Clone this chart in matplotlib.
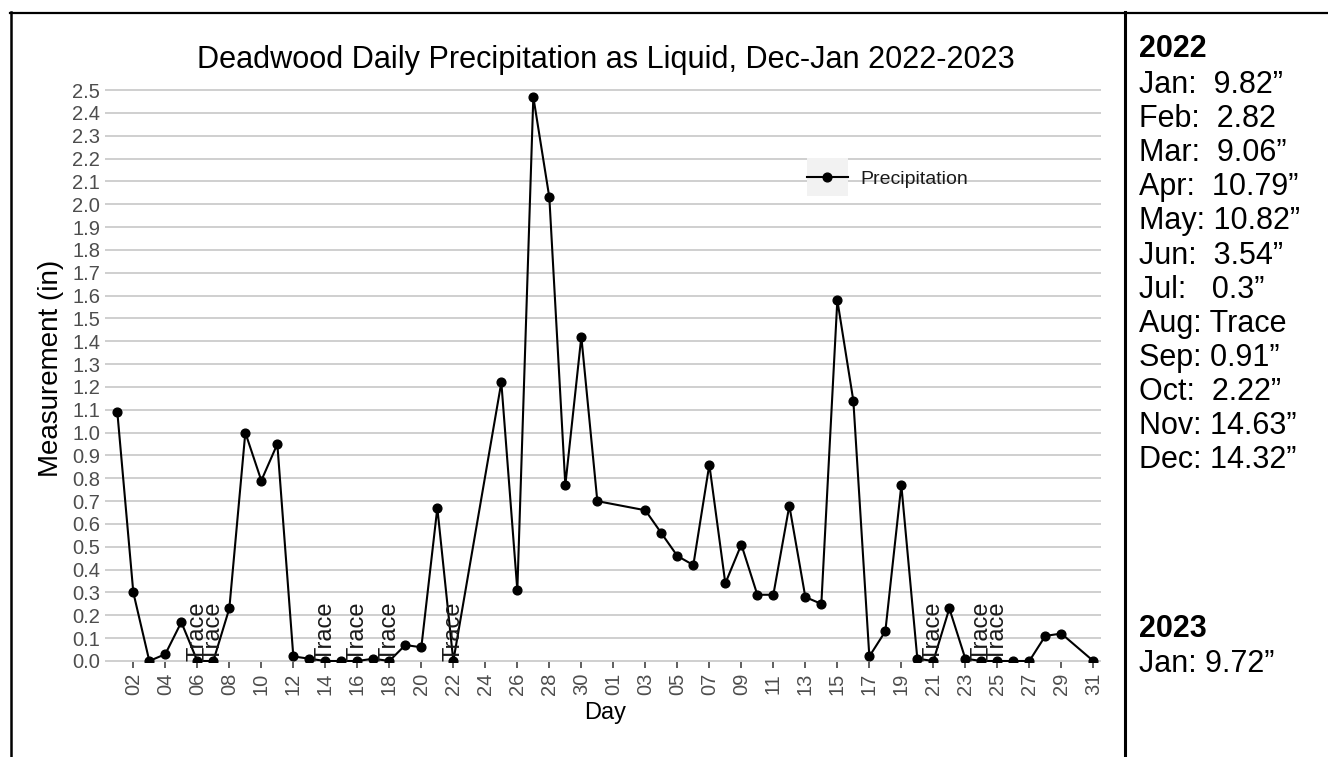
import matplotlib
matplotlib.use('Agg')
import matplotlib.pyplot as plt
import matplotlib.dates as mdates
import pandas as pd
from matplotlib.lines import Line2D
from matplotlib.patches import Rectangle
from matplotlib.legend_handler import HandlerLine2D
from matplotlib.ticker import MultipleLocator, FormatStrFormatter

plt.rcParams['font.family'] = ['Liberation Sans', 'DejaVu Sans']

# ---------------- data ----------------
days = ["2022-12-01", "2022-12-02", "2022-12-03", "2022-12-04", "2022-12-05", "2022-12-06",
        "2022-12-07", "2022-12-08", "2022-12-09", "2022-12-10", "2022-12-11", "2022-12-12",
        "2022-12-13", "2022-12-14", "2022-12-15", "2022-12-16", "2022-12-17", "2022-12-18",
        "2022-12-19", "2022-12-20", "2022-12-21", "2022-12-22", "2022-12-25", "2022-12-26",
        "2022-12-27", "2022-12-28", "2022-12-29", "2022-12-30", "2022-12-31",
        "2023-01-03", "2023-01-04", "2023-01-05", "2023-01-06", "2023-01-07", "2023-01-08",
        "2023-01-09", "2023-01-10", "2023-01-11", "2023-01-12", "2023-01-13", "2023-01-14",
        "2023-01-15", "2023-01-16", "2023-01-17", "2023-01-18", "2023-01-19", "2023-01-20",
        "2023-01-21", "2023-01-22", "2023-01-23", "2023-01-24", "2023-01-25", "2023-01-26",
        "2023-01-27", "2023-01-28", "2023-01-29", "2023-01-31"]
precip = [1.09, 0.30, 0.00, 0.03, 0.17, 0.00,
          0.00, 0.23, 1.00, 0.79, 0.95, 0.02,
          0.01, 0.00, 0.00, 0.00, 0.01, 0.00,
          0.07, 0.06, 0.67, 0.00, 1.22, 0.31,
          2.47, 2.03, 0.77, 1.42, 0.70,
          0.66, 0.56, 0.46, 0.42, 0.86, 0.34,
          0.51, 0.29, 0.29, 0.68, 0.28, 0.25,
          1.58, 1.14, 0.02, 0.13, 0.77, 0.01,
          0.00, 0.23, 0.01, 0.00, 0.00, 0.00,
          0.00, 0.11, 0.12, 0.00]
trace_days = ["2022-12-06", "2022-12-07", "2022-12-14", "2022-12-16", "2022-12-18",
              "2022-12-22", "2023-01-21", "2023-01-24", "2023-01-25"]
trace_label = "Trace"
series_name = "Precipitation"

title = "Deadwood Daily Precipitation as Liquid, Dec-Jan 2022-2023"
x_title = "Day"
y_title = "Measurement (in)"

year1 = "2022"
year1_rows = ["Jan:  9.82\u201d", "Feb:  2.82", "Mar:  9.06\u201d", "Apr:  10.79\u201d",
              "May: 10.82\u201d", "Jun:  3.54\u201d", "Jul:   0.3\u201d", "Aug: Trace",
              "Sep: 0.91\u201d", "Oct:  2.22\u201d", "Nov: 14.63\u201d", "Dec: 14.32\u201d"]
year2 = "2023"
year2_rows = ["Jan: 9.72\u201d"]

# ---------------- figure ----------------
W, H = 1328, 757
fig = plt.figure(figsize=(W / 100, H / 100), dpi=100)
fig.patch.set_facecolor('white')

def fx(px):
    return px / W

def fy(py):
    return 1 - py / H

left, right, top, bottom = 105, 1100.7, 88, 662
ax = fig.add_axes([fx(left), fy(bottom), (right - left) / W, (bottom - top) / H])

x = pd.to_datetime(days)
xt = pd.to_datetime(trace_days)

ax.plot(x, precip, color='black', lw=1.5, marker='o', ms=6.3, label=series_name, zorder=3)
for d in xt:
    ax.text(d, 0, trace_label, rotation=90, rotation_mode='anchor', ha='left', va='center',
            fontsize=17, color='#1a1a1a', zorder=4)

start = pd.Timestamp("2022-12-01")
ax.set_xlim(start - pd.Timedelta(days=0.77), start + pd.Timedelta(days=61.46))
ax.set_ylim(-0.0044, 2.509)

ticks = list(pd.date_range("2022-12-02", "2022-12-30", freq="2D")) + \
        list(pd.date_range("2023-01-01", "2023-01-31", freq="2D"))
ax.set_xticks(ticks)
ax.xaxis.set_major_formatter(mdates.DateFormatter('%d'))
ax.yaxis.set_major_locator(MultipleLocator(0.1))
ax.yaxis.set_major_formatter(FormatStrFormatter('%.1f'))

for s in ax.spines.values():
    s.set_visible(False)
ax.grid(axis='y', color='#cccccc', lw=1.3, zorder=0)
ax.grid(axis='x', visible=False)
ax.set_axisbelow(True)

ax.tick_params(axis='x', length=4.3, width=1.1, color='#333333', labelcolor='#4d4d4d',
               labelsize=14.5, pad=3.6, labelrotation=90)
ax.tick_params(axis='y', length=0, labelcolor='#4d4d4d', labelsize=14.5, pad=3.6)

fig.text(fx(606), fy(68), title, ha='center', va='baseline', fontsize=22.1, color='black')
fig.text(fx(605), fy(719), x_title, ha='center', va='baseline', fontsize=17, color='black')
fig.text(fx(51), fy(368), y_title, ha='center', va='center', rotation=90, fontsize=20, color='black')

# legend with grey key background
class BoxHandler(HandlerLine2D):
    def create_artists(self, legend, orig_handle, xdescent, ydescent, width, height, fontsize, trans):
        arts = super().create_artists(legend, orig_handle, xdescent, ydescent, width, height,
                                      fontsize, trans)
        boxh = 28.0
        cy = height / 2 - ydescent
        rect = Rectangle((-xdescent, cy - boxh / 2), width, boxh, facecolor='#f2f2f2',
                         edgecolor='none', transform=trans)
        return [rect] + list(arts)

handles, labels = ax.get_legend_handles_labels()
leg = fig.legend(handles, labels, loc='center left', bbox_to_anchor=(fx(807), fy(179)),
                 frameon=False, fontsize=14, handlelength=2.1, handletextpad=0.62,
                 borderpad=0, borderaxespad=0, markerscale=1.0,
                 handler_map={Line2D: BoxHandler(numpoints=1)})
for t in leg.get_texts():
    t.set_color('#1a1a1a')

# right side annotations
tx = fx(1139)
fig.text(tx, fy(57), year1, ha='left', va='baseline', fontsize=22, fontweight='bold', color='black')
for i, r in enumerate(year1_rows):
    fig.text(tx, fy(93 + i * 34.1), r, ha='left', va='baseline', fontsize=22, color='black')
fig.text(tx, fy(637), year2, ha='left', va='baseline', fontsize=22, fontweight='bold', color='black')
for i, r in enumerate(year2_rows):
    fig.text(tx, fy(672 + i * 34.1), r, ha='left', va='baseline', fontsize=22, color='black')

# table borders
fig.add_artist(Line2D([fx(10), 1], [fy(12.5), fy(12.5)], color='black', lw=1.6))
fig.add_artist(Line2D([fx(10.5), fx(10.5)], [fy(12), 0], color='black', lw=1.8))
fig.add_artist(Line2D([fx(1125), fx(1125)], [fy(12), 0], color='black', lw=2.2))

fig.savefig('out.png', dpi=100, facecolor='white')
